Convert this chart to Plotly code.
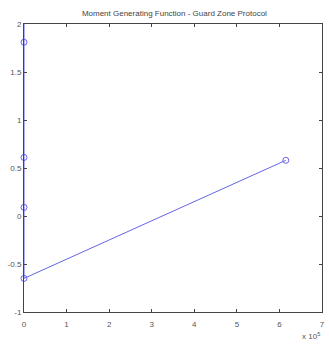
import plotly.graph_objects as go

x_vals = [0, 0, 0, 0, 0, 6.15]
y_vals = [2.6, 1.81, 0.61, 0.09, -0.65, 0.58]
marker_x = [0, 0, 0, 0, 6.15]
marker_y = [1.81, 0.61, 0.09, -0.65, 0.58]
x_ticks = [0, 1, 2, 3, 4, 5, 6, 7]
y_ticks = [-1, -0.5, 0, 0.5, 1, 1.5, 2]
y_tick_text = ["-1", "-0.5", "0", "0.5", "1", "1.5", "2"]

line_color = "rgb(100,100,230)"

fig = go.Figure()
fig.add_trace(go.Scatter(x=x_vals, y=y_vals, mode="lines",
                         line=dict(color=line_color, width=1), cliponaxis=True,
                         hoverinfo="skip"))
fig.add_trace(go.Scatter(x=marker_x, y=marker_y, mode="markers",
                         marker=dict(symbol="circle-open", size=6, color=line_color,
                                     line=dict(width=1, color=line_color)),
                         cliponaxis=False))

axis_common = dict(showgrid=False, zeroline=False, showline=True, linecolor="#444",
                   linewidth=1, mirror="ticks", ticks="inside", ticklen=3,
                   tickcolor="#444", tickfont=dict(family="Liberation Sans", size=8, color="#555"))

fig.update_xaxes(range=[0, 7], tickvals=x_ticks, ticktext=[str(t) for t in x_ticks],
                 ticklabelstandoff=4, **axis_common)
fig.update_yaxes(range=[-1, 2], tickvals=y_ticks, ticktext=y_tick_text, **axis_common)

fig.update_layout(
    width=329, height=349,
    margin=dict(l=24, r=4, t=24, b=37),
    paper_bgcolor="white", plot_bgcolor="white",
    showlegend=False,
    title=dict(text="Moment Generating Function - Guard Zone Protocol",
               font=dict(family="Liberation Sans", size=8, color="#444"),
               x=0.53, xanchor="center", y=0.962, yanchor="middle"),
    annotations=[dict(text="x 10<sup>5</sup>", xref="paper", yref="paper",
                      x=1.0, y=-0.06, xanchor="right", yanchor="top", showarrow=False,
                      font=dict(family="Liberation Sans", size=8, color="#555"))],
)

fig.write_html("out.html")
